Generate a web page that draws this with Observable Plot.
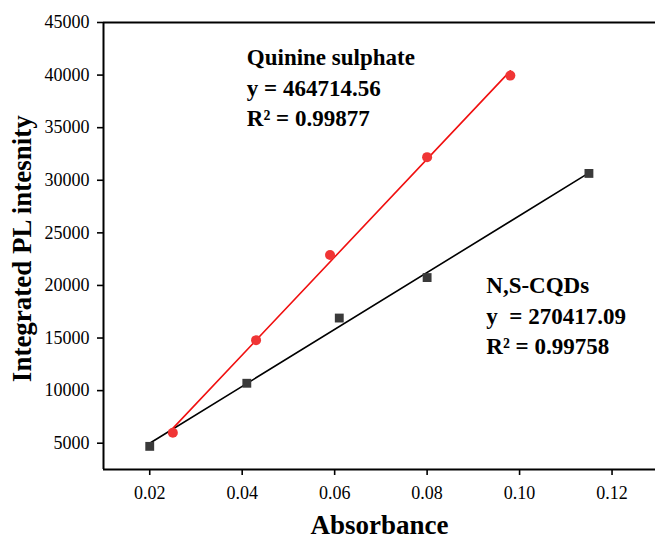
<!DOCTYPE html>
<html>
<head>
<meta charset="utf-8">
<script src="https://cdn.jsdelivr.net/npm/d3@7"></script>
<script src="https://cdn.jsdelivr.net/npm/@observablehq/plot@0.6"></script>
<style>
  html, body { margin: 0; padding: 0; background: #fff; }
  #chart svg { display: block; font-family: 'Liberation Serif', 'Times New Roman', serif !important; }
  #chart g[aria-label="x-axis tick label"], #chart g[aria-label="x-axis tick label"] text,
  #chart g[aria-label="y-axis tick label"], #chart g[aria-label="y-axis tick label"] text {
    font-size: 18px !important; font-family: 'Liberation Serif', 'Times New Roman', serif !important;
  }
</style>
</head>
<body>
<div id="chart"></div>
<script>
// N,S-CQDs (black squares)
const cqdAbs = [0.020, 0.041, 0.061, 0.080, 0.115];
const cqdPL  = [4700, 10700, 16900, 20750, 30650];
// Quinine sulphate (red circles)
const qsAbs = [0.025, 0.043, 0.059, 0.080, 0.098];
const qsPL  = [6000, 14800, 22900, 32200, 39950];

const xTicks = [0.02, 0.04, 0.06, 0.08, 0.10, 0.12];
const yTicks = [5000, 10000, 15000, 20000, 25000, 30000, 35000, 40000, 45000];

const qsLabel = "Quinine sulphate\ny = 464714.56\nR\u00B2 = 0.99877";
const cqdLabel = "N,S-CQDs\ny  = 270417.09\nR\u00B2 = 0.99758";
const xTitle = "Absorbance";
const yTitle = "Integrated PL intesnity";

const cqd = cqdAbs.map((x, i) => ({x, y: cqdPL[i]}));
const qs = qsAbs.map((x, i) => ({x, y: qsPL[i]}));

const xDomain = [0.01, 0.1294];
const yDomain = [2500, 45000];
const font = "Liberation Serif";

const chart = Plot.plot({
  width: 655,
  height: 540,
  marginLeft: 103,
  marginRight: 0,
  marginTop: 22,
  marginBottom: 71,
  style: {fontFamily: font, fontSize: "18px", color: "#000", background: "#fff"},
  x: {domain: xDomain},
  y: {domain: yDomain},
  marks: [
    Plot.axisX({ticks: xTicks, tickFormat: d3.format(".2f"), tickSize: 6, tickPadding: 11, label: null, fontSize: 18, strokeWidth: 1.6}),
    Plot.axisY({ticks: yTicks, tickFormat: d3.format("d"), tickSize: 6, tickPadding: 8, label: null, fontSize: 18, strokeWidth: 1.6}),
    Plot.ruleX([xDomain[0]], {stroke: "#000", strokeWidth: 2}),
    Plot.ruleY([yDomain[0], yDomain[1]], {stroke: "#000", strokeWidth: 2}),
    Plot.linearRegressionY(cqd, {x: "x", y: "y", ci: 0, stroke: "#000", strokeWidth: 1.6}),
    Plot.linearRegressionY(qs, {x: "x", y: "y", ci: 0, stroke: "#f01010", strokeWidth: 1.6}),
    Plot.dot(cqd, {x: "x", y: "y", symbol: "square", r: 5, fill: "#3a3a3a", stroke: "none"}),
    Plot.dot(qs, {x: "x", y: "y", symbol: "circle", r: 5, fill: "#f03535", stroke: "none"}),
    Plot.text([qsLabel], {x: 0.041, y: 43000, text: d => d, textAnchor: "start", lineAnchor: "top", lineHeight: 1.33, fontSize: 23, fontWeight: "bold", fill: "#000"}),
    Plot.text([cqdLabel], {x: 0.0928, y: 21350, text: d => d, textAnchor: "start", lineAnchor: "top", lineHeight: 1.33, fontSize: 23, fontWeight: "bold", fill: "#000"}),
    Plot.text([xTitle], {frameAnchor: "bottom", dy: 56, lineAnchor: "middle", text: d => d, fontSize: 27, fontWeight: "bold", fill: "#000"}),
    Plot.text([yTitle], {x: -0.0075, y: 23500, rotate: -90, lineAnchor: "middle", textAnchor: "middle", text: d => d, fontSize: 27, fontWeight: "bold", fill: "#000"})
  ]
});
document.getElementById("chart").appendChild(chart);
</script>
</body>
</html>
